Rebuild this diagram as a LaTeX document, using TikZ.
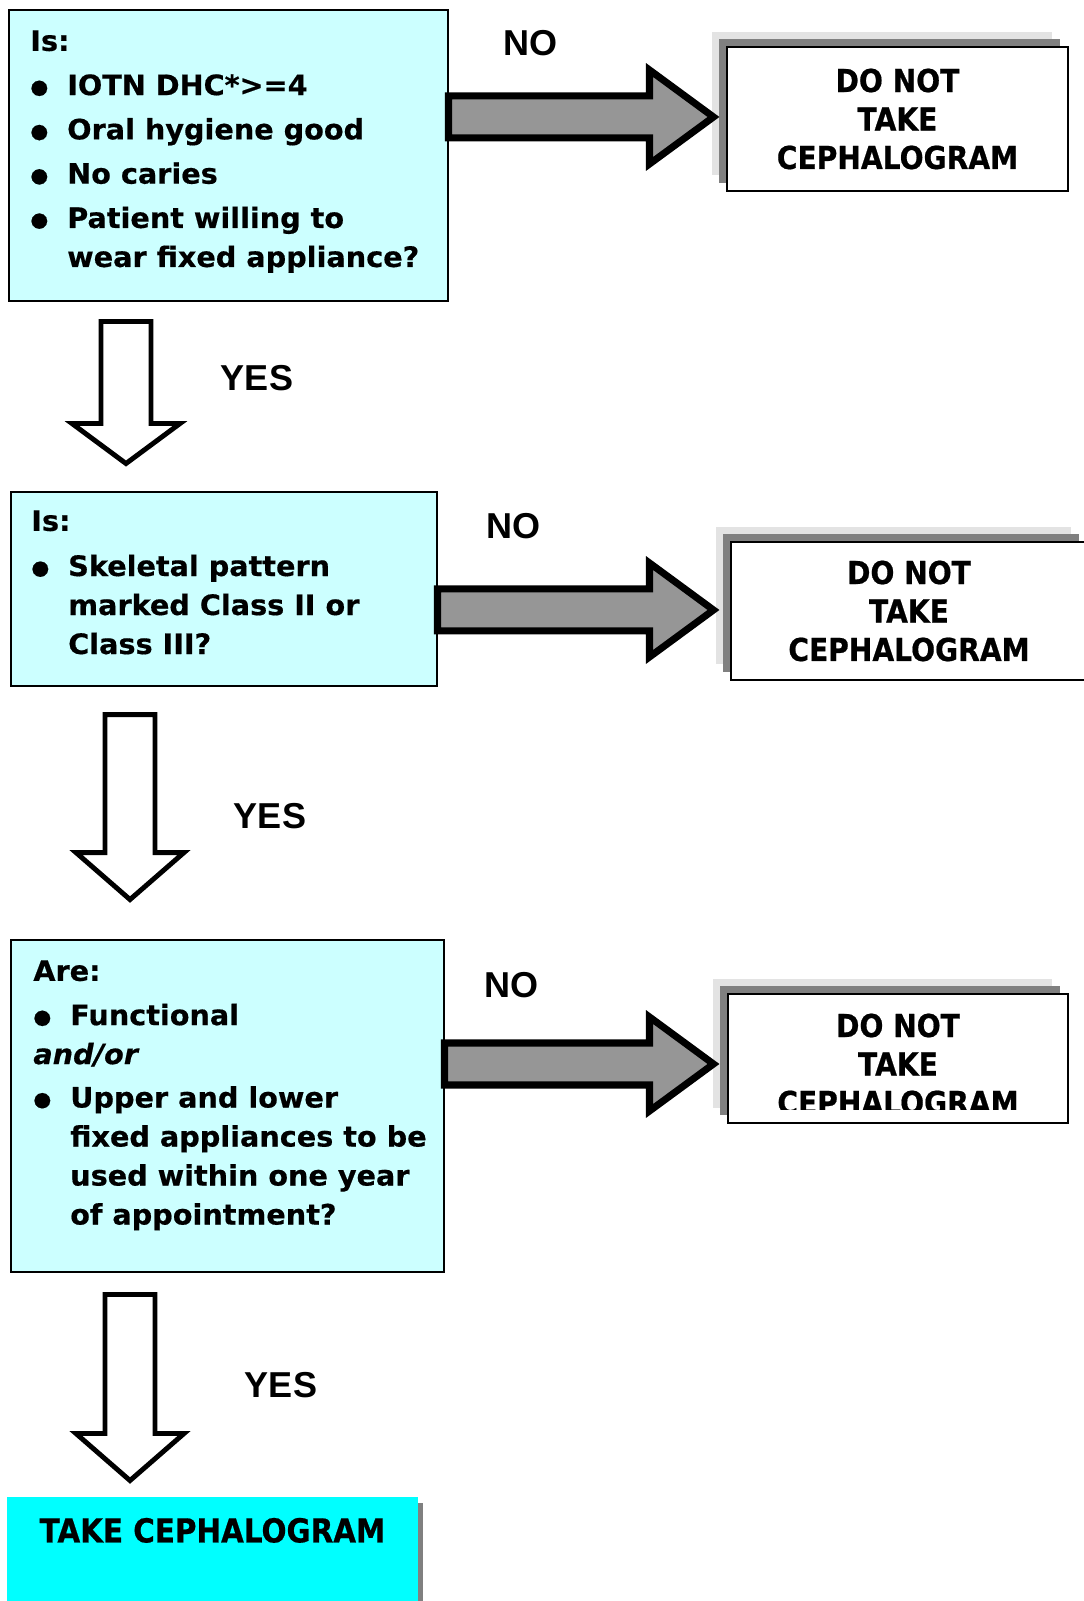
\documentclass[tikz,border=0pt]{standalone}
\usepackage{fontspec}
\setmainfont{DejaVu Sans}[FakeStretch=1.02,BoldFeatures={FakeBold=0.5},BoldItalicFeatures={FakeBold=0.5}]
\newfontfamily\narrowsans{DejaVu Sans}[FakeStretch=0.89,BoldFeatures={FakeBold=0.6}]
\newfontfamily\labelsans{Liberation Sans}
\usepackage{xcolor}
\usetikzlibrary{shadows}
\definecolor{qcyan}{RGB}{204,255,255}
\definecolor{endcyan}{RGB}{0,255,255}
\definecolor{blockgray}{RGB}{150,150,150}
\definecolor{shadedark}{RGB}{128,128,128}
\definecolor{shadelight}{RGB}{227,227,227}
\newcommand{\bul}{\makebox[21pt][l]{\raisebox{0.9pt}{\fontsize{11.5}{0}\selectfont ●}}}
\newcommand{\ind}{\hspace*{21pt}}

\begin{document}
\begin{tikzpicture}[x=0.02cm,y=-0.02cm,
  qbox/.style={draw,line width=0.9pt,fill=qcyan,anchor=north west,inner sep=0pt},
  qtext/.style={anchor=north west,inner sep=0pt,align=left,font=\fontsize{16}{22.2}\selectfont\bfseries},
  stopbox/.style={draw,line width=1.1pt,fill=white,inner sep=0pt,
    general shadow={fill=shadelight,draw=none,shadow xshift=-0.31cm,shadow yshift=0.31cm},
    general shadow={fill=shadedark,draw=none,shadow xshift=-0.16cm,shadow yshift=0.16cm}},
  stoptext/.style={align=center,inner sep=0pt,font=\narrowsans\bfseries\fontsize{18}{21.9}\selectfont},
  noarrow/.style={draw,line width=4pt,fill=blockgray,line join=miter},
  yesarrow/.style={draw,line width=2.8pt,fill=white,line join=miter},
  answer/.style={font=\labelsans\bfseries\fontsize{20.5}{24}\selectfont}]
\useasboundingbox (0,0) rectangle (1083,1601);

\node[qbox,minimum width=8.78cm,minimum height=5.82cm] (q1) at (8,9) {};
\node[qtext] (q1t) at (30,30) {Is:\\[3pt]
\bul IOTN DHC*>=4\\[3pt]
\bul Oral hygiene good\\[3pt]
\bul No caries\\[3pt]
\bul Patient willing to\\
\ind wear fixed appliance?};

\node[qbox,minimum width=8.52cm,minimum height=3.88cm] (q2) at (10,491) {};
\node[qtext] (q2t) at (31,510) {Is:\\[3.5pt]
\bul Skeletal pattern\\
\ind marked Class II or\\
\ind Class III?};

\node[qbox,minimum width=8.66cm,minimum height=6.64cm] (q3) at (10,939) {};
\node[qtext] (q3t) at (33,960) {Are:\\[3pt]
\bul Functional\\
{\itshape and/or}\\[2.5pt]
\bul Upper and lower\\
\ind fixed appliances to be\\
\ind used within one year\\
\ind of appointment?};

\node[stopbox,stoptext,minimum width=6.82cm,minimum height=2.88cm] (n1) at (897.5,119) {DO NOT\\TAKE\\CEPHALOGRAM};
\node[stopbox,stoptext,minimum width=7.12cm,minimum height=2.76cm] (n2) at (909,611) {DO NOT\\TAKE\\CEPHALOGRAM};
\node[stopbox,minimum width=6.8cm,minimum height=2.58cm] (n3) at (898,1058.5) {};
\begin{scope}
\clip (n3.north west) rectangle ([yshift=0.28cm]n3.south east);
\node[stoptext] (n3t) at (898,1064) {DO NOT\\TAKE\\CEPHALOGRAM};
\end{scope}

\node[fill=endcyan,anchor=north,minimum width=8.22cm,inner ysep=0.42cm,text height=13.7pt,text depth=1.14cm,
  font=\narrowsans\bfseries\fontsize{18.8}{22}\selectfont,
  general shadow={fill=shadedark,shadow xshift=0.1cm,shadow yshift=-0.12cm}] (take) at (212.5,1497) {TAKE CEPHALOGRAM};

\draw[noarrow] ([yshift=-1.74cm]q1.north east) -- ++(201,0) -- ++(0,-26) -- ++(64,47) -- ++(-64,47) -- ++(0,-26) -- ++(-201,0) -- cycle;
\draw[noarrow] ([yshift=-1.96cm]q2.north east) -- ++(212,0) -- ++(0,-26) -- ++(64,47) -- ++(-64,47) -- ++(0,-26) -- ++(-212,0) -- cycle;
\draw[noarrow] ([yshift=-2.08cm]q3.north east) -- ++(205,0) -- ++(0,-26) -- ++(64,47) -- ++(-64,47) -- ++(0,-26) -- ++(-205,0) -- cycle;

\draw[yesarrow] ([shift={(93,20)}]q1.south west) -- ++(50,0) -- ++(0,102) -- ++(29,0) -- ++(-54,40) -- ++(-54,-40) -- ++(29,0) -- cycle;
\draw[yesarrow] ([shift={(95,28)}]q2.south west) -- ++(50,0) -- ++(0,138) -- ++(29,0) -- ++(-54,47) -- ++(-54,-47) -- ++(29,0) -- cycle;
\draw[yesarrow] ([shift={(95,22)}]q3.south west) -- ++(50,0) -- ++(0,139) -- ++(29,0) -- ++(-54,47) -- ++(-54,-47) -- ++(29,0) -- cycle;

\node[answer] (no1) at (531,43) {NO};
\node[answer] (no2) at (514,526) {NO};
\node[answer] (no3) at (512,985) {NO};
\node[answer] (yes1) at (257,378) {YES};
\node[answer] (yes2) at (270,816) {YES};
\node[answer] (yes3) at (281,1385) {YES};
\end{tikzpicture}
\end{document}
